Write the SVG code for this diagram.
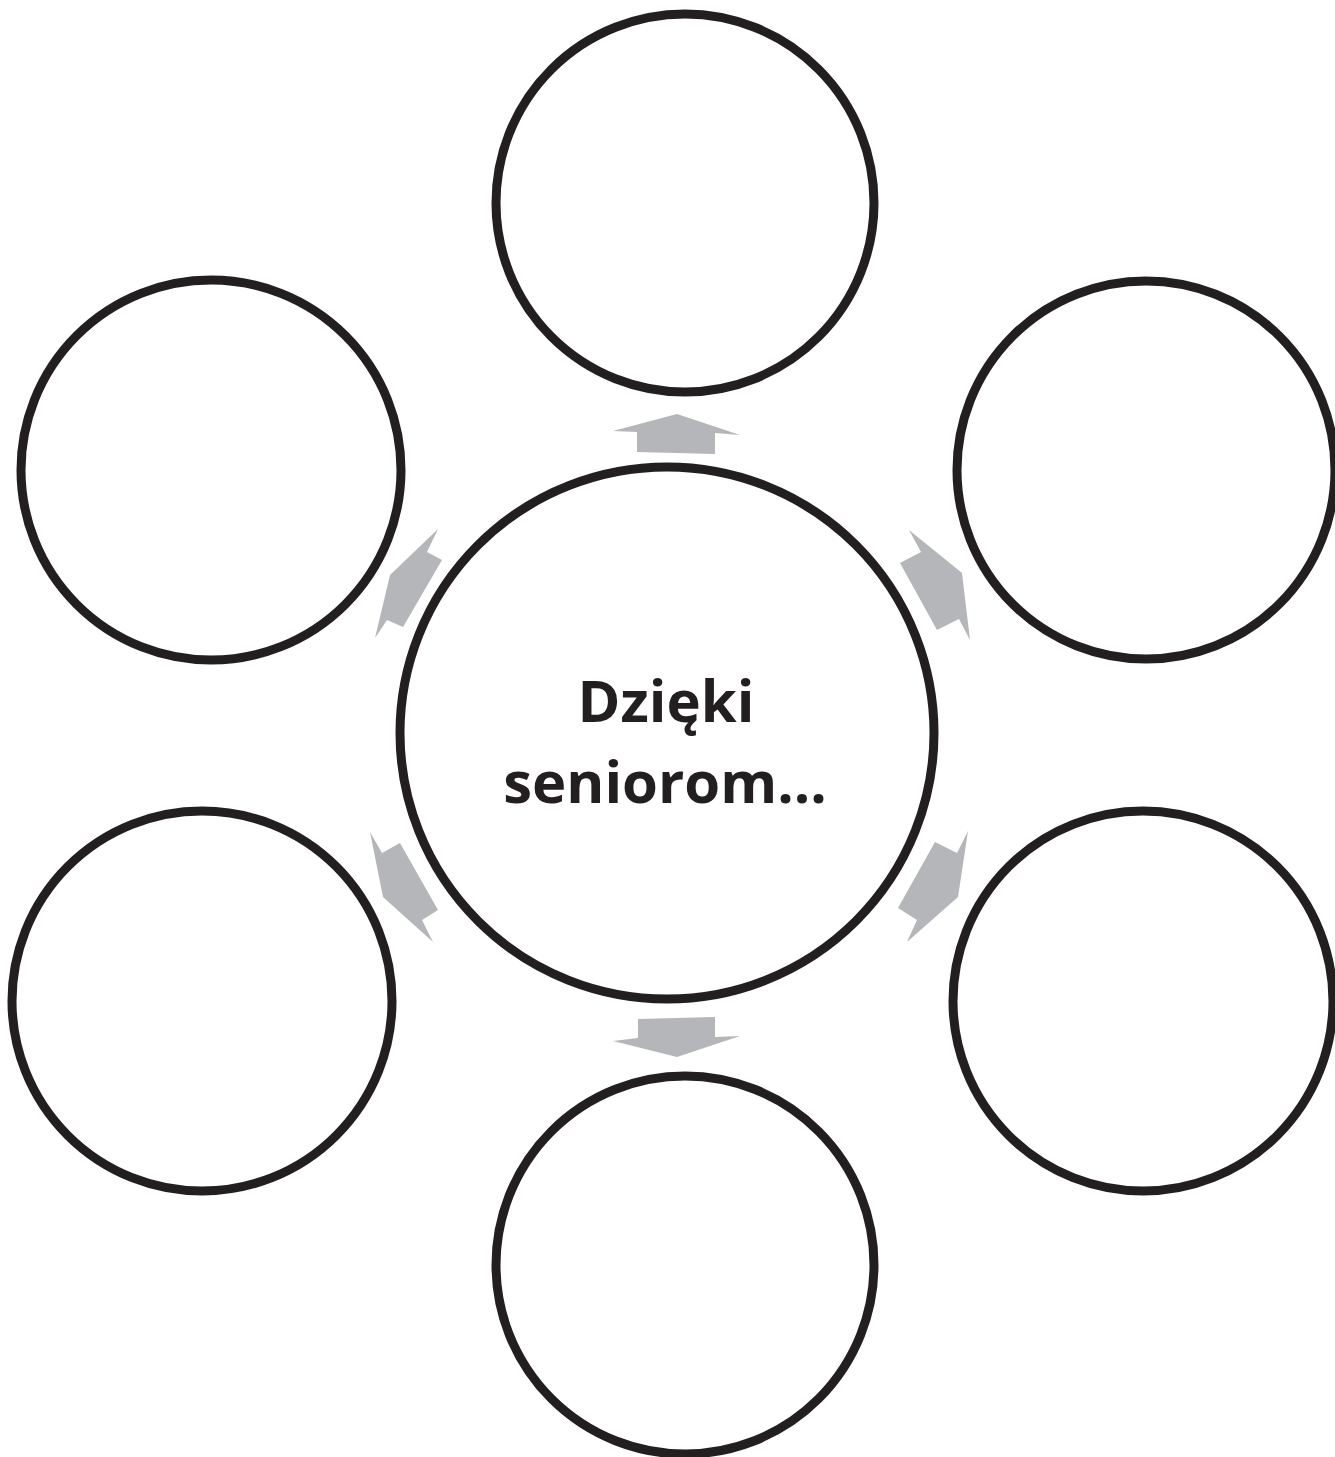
<svg xmlns="http://www.w3.org/2000/svg" width="1335" height="1457" viewBox="0 0 1335 1457">
<style>
.c{fill:#fff;stroke:#231f20;stroke-width:9}
.a{fill:#b5b6b9;stroke:none}
.t{font-family:"Open Sans","Noto Sans",sans-serif;font-weight:bold;font-size:58px;fill:#231f20;text-anchor:middle}
</style>
<rect width="1335" height="1457" fill="#fff"/>
<g id="connectors">
<polygon class="a" points="677,414 740,435 715,433 715,454 637,452 637,432 613,431"/>
<polygon class="a" points="638,1019 715,1017 715,1037 740,1036 677,1057 613,1041 638,1038"/>
<polygon class="a" points="909,530 962,573 970,640 959,619 937,630 900,563 921,552"/>
<polygon class="a" points="438,529 427,552 442,560 403,627 387,620 375,638 390,575"/>
<polygon class="a" points="370,832 382,853 400,843 438,910 422,920 433,942 383,897"/>
<polygon class="a" points="968,831 957,853 935,842 898,908 917,920 907,942 958,897"/>
</g>
<g id="center">
<ellipse class="c" cx="667" cy="733" rx="267" ry="266"/>
<text class="t" x="666" y="722">Dzięki</text>
<text class="t" x="665" y="803">seniorom...</text>
</g>
<g id="top"><circle class="c" cx="685" cy="203" r="189"/></g>
<g id="top-left"><circle class="c" cx="211" cy="470" r="190"/></g>
<g id="top-right"><circle class="c" cx="1146" cy="470" r="189"/></g>
<g id="bottom-left"><circle class="c" cx="202" cy="1001" r="190"/></g>
<g id="bottom-right"><circle class="c" cx="1143" cy="1001" r="190"/></g>
<g id="bottom"><circle class="c" cx="685" cy="1265" r="189"/></g>
</svg>
